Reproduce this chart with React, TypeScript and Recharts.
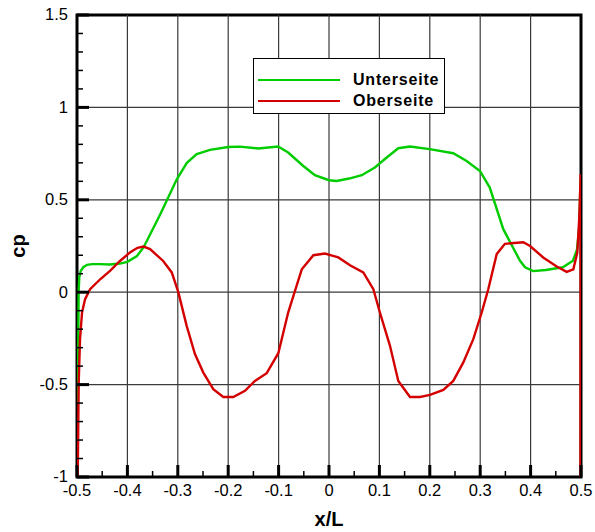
import React from "react";
import { LineChart, Line, XAxis, YAxis, ReferenceLine, ReferenceArea, Legend } from "recharts";

const unterseiteX = [
  -0.499, -0.4975, -0.4968, -0.4955, -0.4927, -0.4875, -0.48, -0.47, -0.455, -0.435, -0.415, -0.4,
  -0.381, -0.368, -0.335, -0.302, -0.282, -0.2625, -0.236, -0.2, -0.177, -0.14, -0.101, -0.081,
  -0.051, -0.028, 0.0, 0.015, 0.04, 0.065, 0.091, 0.1145, 0.1375, 0.1607, 0.2, 0.2466, 0.273,
  0.2996, 0.319, 0.3458, 0.379, 0.389, 0.405, 0.43, 0.464, 0.484, 0.492, 0.4965, 0.499,
];
const unterseiteCp = [
  -0.6, -0.29, 0.0, 0.08, 0.115, 0.135, 0.148, 0.152, 0.152, 0.15, 0.155, 0.164,
  0.196, 0.242, 0.42, 0.611, 0.7, 0.747, 0.77, 0.786, 0.788, 0.778, 0.788, 0.756,
  0.683, 0.633, 0.606, 0.602, 0.615, 0.633, 0.675, 0.729, 0.779, 0.788, 0.774, 0.752, 0.71,
  0.656, 0.566, 0.341, 0.17, 0.135, 0.114, 0.12, 0.135, 0.17, 0.23, 0.35, 0.6,
];

const oberseiteX = [
  -0.4986, -0.4976, -0.4966, -0.494, -0.49, -0.484, -0.474, -0.454, -0.4345, -0.4147, -0.395, -0.38,
  -0.368, -0.355, -0.329, -0.312, -0.299, -0.2824, -0.266, -0.2494, -0.2296, -0.2097, -0.19, -0.1667,
  -0.147, -0.1236, -0.1006, -0.081, -0.0675, -0.054, -0.031, -0.008, 0.0185, 0.0417, 0.068, 0.088,
  0.101, 0.121, 0.1375, 0.1607, 0.1806, 0.2004, 0.2268, 0.2466, 0.2665, 0.2863, 0.303, 0.316,
  0.3327, 0.349, 0.3855, 0.399, 0.425, 0.4518, 0.4716, 0.4848, 0.4927, 0.4965, 0.4994, 0.499,
];
const oberseiteCp = [
  -1.0, -0.75, -0.489, -0.254, -0.11, -0.038, 0.016, 0.07, 0.115, 0.169, 0.215, 0.24,
  0.247, 0.233, 0.169, 0.107, 0.0, -0.182, -0.335, -0.435, -0.525, -0.567, -0.567, -0.534,
  -0.48, -0.438, -0.33, -0.11, 0.007, 0.124, 0.2, 0.209, 0.188, 0.146, 0.107, 0.016,
  -0.11, -0.29, -0.48, -0.567, -0.567, -0.556, -0.529, -0.48, -0.38, -0.254, -0.11, 0.016,
  0.206, 0.262, 0.27, 0.25, 0.188, 0.139, 0.11, 0.124, 0.215, 0.4, 0.638, -1.0,
];

const seriesNames = ["Unterseite", "Oberseite"];
const xLabeledTicks = [-0.5, -0.4, -0.3, -0.2, -0.1, 0, 0.1, 0.2, 0.3, 0.4, 0.5];
const xMinorTicks = [-0.45, -0.35, -0.25, -0.15, -0.05, 0.05, 0.15, 0.25, 0.35, 0.45];
const yLabeledTicks = [-1, -0.5, 0, 0.5, 1, 1.5];
const yMinorTicks = [-0.9, -0.8, -0.7, -0.6, -0.4, -0.3, -0.2, -0.1, 0.1, 0.2, 0.3, 0.4, 0.6, 0.7, 0.8, 0.9, 1.1, 1.2, 1.3, 1.4];
const xGrid = [-0.4, -0.3, -0.2, -0.1, 0, 0.1, 0.2, 0.3, 0.4];
const yGrid = [-0.5, 0, 0.5, 1];

const unterseite = unterseiteX.map((x, i) => ({ x, cp: unterseiteCp[i] }));
const oberseite = oberseiteX.map((x, i) => ({ x, cp: oberseiteCp[i] }));

const FONT = "'Liberation Sans', Arial, Helvetica, sans-serif";
const GREEN = "#00cc00";
const RED = "#d40000";

const XTick = (props: any) => {
  const { x, y, payload } = props;
  const v = payload.value;
  const major = xLabeledTicks.includes(v);
  return (
    <g>
      <line x1={x} x2={x} y1={y} y2={y - (major ? 12 : 6)} stroke="#000" strokeWidth={major ? 3 : 1.5} />
      {major && (
        <text x={x} y={y + 19} textAnchor="middle" fontSize={16.5} fontFamily={FONT} fill="#000">
          {String(v)}
        </text>
      )}
    </g>
  );
};

const YTick = (props: any) => {
  const { x, y, payload } = props;
  const v = payload.value;
  const major = yLabeledTicks.includes(v);
  return (
    <g>
      <line x1={x} x2={x + (major ? 12 : 6)} y1={y} y2={y} stroke="#000" strokeWidth={major ? 3 : 1.5} />
      {major && (
        <text x={x - 9} y={y + 5.3} textAnchor="end" fontSize={16.5} fontFamily={FONT} fill="#000">
          {String(v)}
        </text>
      )}
    </g>
  );
};

const LegendBox = (props: any) => {
  const payload = [...(props.payload || [])].sort(
    (a: any, b: any) => seriesNames.indexOf(a.value) - seriesNames.indexOf(b.value)
  );
  return (
    <div
      style={{
        boxSizing: "border-box",
        width: 192,
        height: 56,
        border: "1px solid #000",
        background: "#fff",
        position: "relative",
        fontFamily: FONT,
        fontWeight: "bold",
        fontSize: 16,
        letterSpacing: "0.8px",
      }}
    >
      {payload.map((p: any, i: number) => (
        <React.Fragment key={i}>
          <div style={{ position: "absolute", left: 4, top: 20 + 21 * i, width: 82, height: 2, background: p.color }} />
          <span style={{ position: "absolute", left: 99, top: 12.5 + 21 * i, lineHeight: "16px", whiteSpace: "nowrap", color: "#000" }}>
            {p.value}
          </span>
        </React.Fragment>
      ))}
    </div>
  );
};

export default function App() {
  return (
    <div style={{ position: "absolute", left: 0, top: 0, width: 595, height: 532, background: "#fff" }}>
      <LineChart width={595} height={532} margin={{ top: 15, right: 14, bottom: 0, left: 0 }}>
        <XAxis
          dataKey="x"
          type="number"
          domain={[-0.5, 0.5]}
          allowDataOverflow
          ticks={[...xLabeledTicks, ...xMinorTicks]}
          interval={0}
          tickSize={0}
          tickMargin={0}
          tickLine={false}
          axisLine={false}
          height={55}
          tick={<XTick />}
          label={{
            content: (p: any) => {
              const vb = p.viewBox || {};
              return (
                <text x={vb.x + vb.width / 2} y={vb.y + 49} textAnchor="middle" fontSize={20} fontWeight="bold" fontFamily={FONT} fill="#000">
                  x/L
                </text>
              );
            },
          }}
        />
        <YAxis
          type="number"
          domain={[-1, 1.5]}
          allowDataOverflow
          ticks={[...yLabeledTicks, ...yMinorTicks]}
          interval={0}
          tickSize={0}
          tickMargin={0}
          tickLine={false}
          axisLine={false}
          width={77}
          tick={<YTick />}
          label={{
            content: (p: any) => {
              const vb = p.viewBox || {};
              const cx = 18;
              const cy = vb.y + vb.height / 2;
              return (
                <text x={cx} y={cy} transform={`rotate(-90 ${cx} ${cy})`} textAnchor="middle" dominantBaseline="central" fontSize={20} fontWeight="bold" fontFamily={FONT} fill="#000">
                  cp
                </text>
              );
            },
          }}
        />
        {xGrid.map((v) => (
          <ReferenceLine key={"gx" + v} x={v} stroke="#3a3a3a" strokeWidth={1.2} />
        ))}
        {yGrid.map((v) => (
          <ReferenceLine key={"gy" + v} y={v} stroke="#3a3a3a" strokeWidth={1.2} />
        ))}
        <ReferenceArea x1={-0.5} x2={0.5} y1={-1} y2={1.5} fill="none" fillOpacity={0} stroke="#000" strokeWidth={3} />
        <Legend
          layout="vertical"
          align="center"
          verticalAlign="middle"
          content={<LegendBox />}
          wrapperStyle={{ left: 253, top: 58, width: 192, height: 56 }}
        />
        <Line data={unterseite} dataKey="cp" name="Unterseite" type="linear" stroke={GREEN} strokeWidth={2.4} dot={false} isAnimationActive={false} />
        <Line data={oberseite} dataKey="cp" name="Oberseite" type="linear" stroke={RED} strokeWidth={2.4} dot={false} isAnimationActive={false} />
      </LineChart>
    </div>
  );
}
